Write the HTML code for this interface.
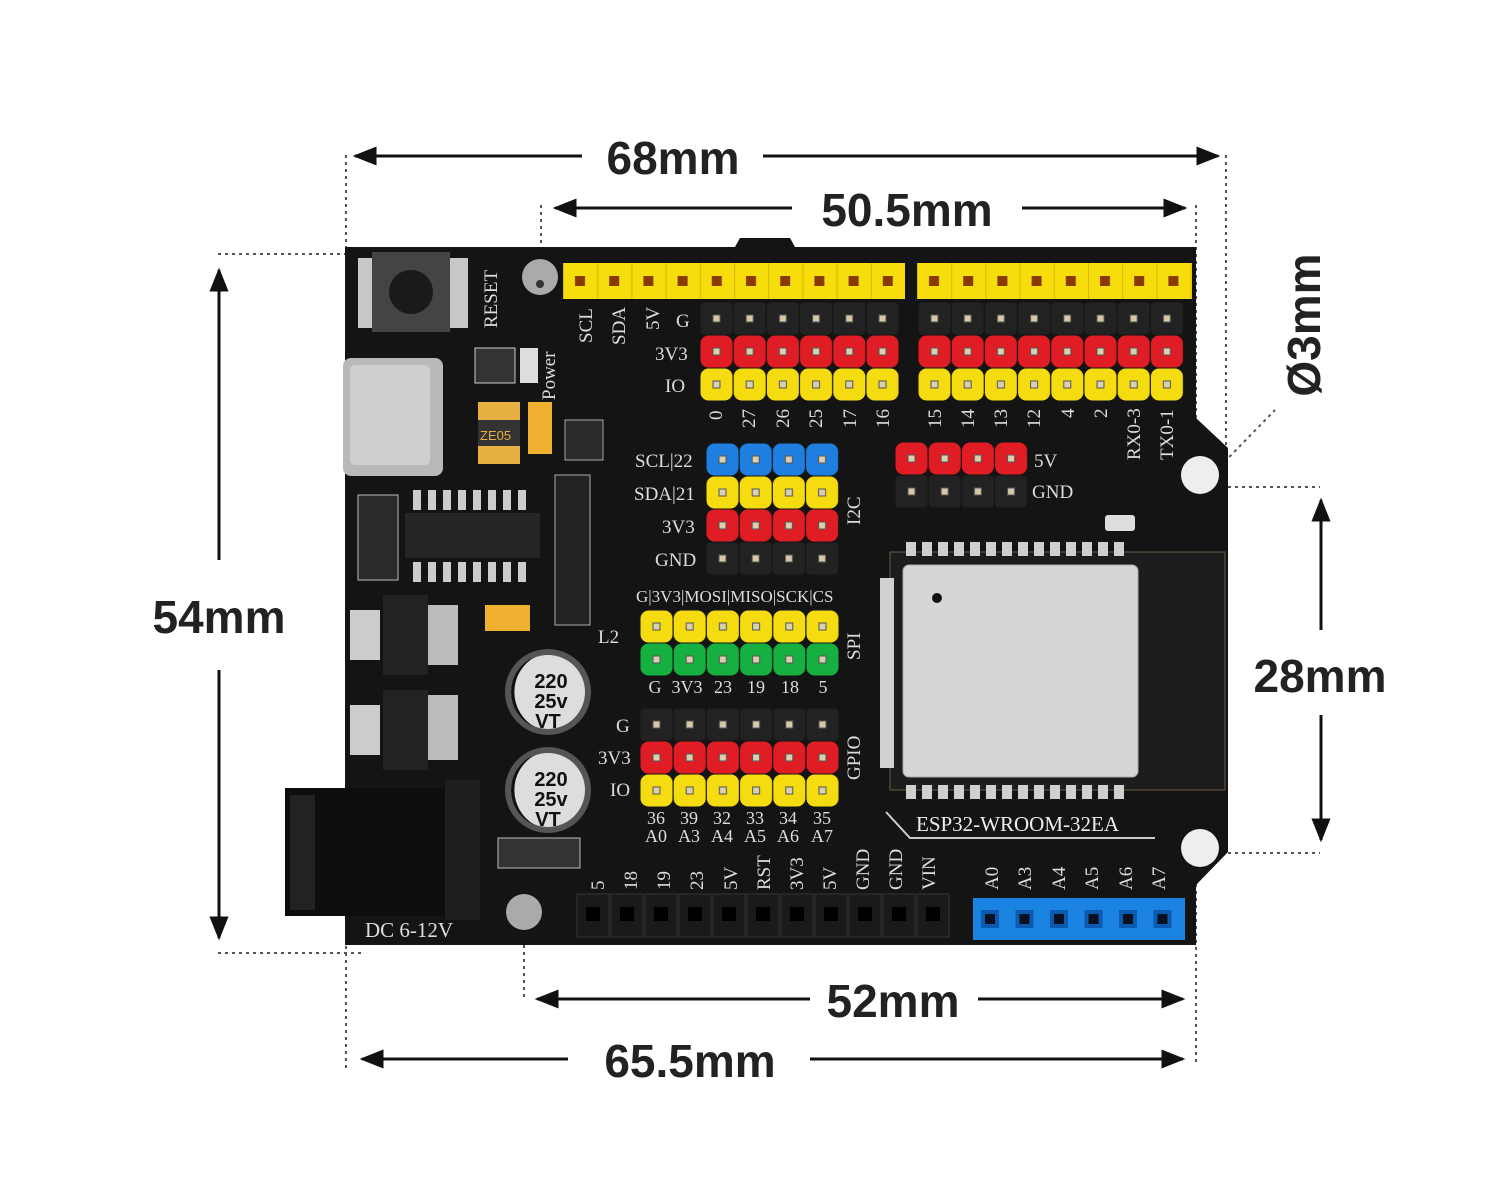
<!DOCTYPE html>
<html><head><meta charset="utf-8"><style>
html,body{margin:0;padding:0;background:#fff;}
svg{display:block;}
</style></head><body>
<svg width="1500" height="1200" viewBox="0 0 1500 1200" xmlns="http://www.w3.org/2000/svg" font-family="Liberation Serif, serif">
<defs>
<pattern id="pY" width="33.2" height="33" patternUnits="userSpaceOnUse"><rect x="0.5" y="0.5" width="32" height="32" rx="8" fill="#f5dc10"/><rect x="13" y="13" width="7" height="7" fill="#d8d0b0" stroke="#555" stroke-width="1"/></pattern>
<pattern id="pR" width="33.2" height="33" patternUnits="userSpaceOnUse"><rect x="0.5" y="0.5" width="32" height="32" rx="8" fill="#e01c24"/><rect x="13" y="13" width="7" height="7" fill="#d8d0b0" stroke="#555" stroke-width="1"/></pattern>
<pattern id="pK" width="33.2" height="33" patternUnits="userSpaceOnUse"><rect x="0.5" y="0.5" width="32" height="32" rx="4" fill="#222"/><rect x="13" y="13" width="7" height="7" fill="#d8c8a8" stroke="#555" stroke-width="1"/></pattern>
<pattern id="pB" width="33.2" height="33" patternUnits="userSpaceOnUse"><rect x="0.5" y="0.5" width="32" height="32" rx="8" fill="#1e7fe0"/><rect x="13" y="13" width="7" height="7" fill="#d8d0b0" stroke="#555" stroke-width="1"/></pattern>
<pattern id="pG" width="33.2" height="33" patternUnits="userSpaceOnUse"><rect x="0.5" y="0.5" width="32" height="32" rx="8" fill="#16b040"/><rect x="13" y="13" width="7" height="7" fill="#d8d0b0" stroke="#555" stroke-width="1"/></pattern>
<pattern id="hY" width="34.2" height="36" patternUnits="userSpaceOnUse"><rect width="34.2" height="36" fill="#f7dd0c"/><rect x="0" y="0" width="1" height="36" fill="#d6b800"/><rect x="12" y="13" width="10" height="10" fill="#8a3a00"/></pattern>
<pattern id="hK" width="34" height="45" patternUnits="userSpaceOnUse"><rect width="34" height="45" fill="#1a1a1a"/><rect x="1" y="1" width="32" height="43" fill="none" stroke="#333" stroke-width="1"/><rect x="10" y="14" width="14" height="14" fill="#000"/></pattern>
<pattern id="hB" width="34.5" height="40" patternUnits="userSpaceOnUse"><rect width="34.5" height="40" fill="#1a82e0"/><rect x="8" y="12" width="18" height="18" fill="#0a5ab0"/><rect x="12" y="16" width="10" height="10" fill="#0a1020"/></pattern>
<marker id="ar" viewBox="0 0 10 10" refX="9" refY="5" markerWidth="8" markerHeight="8" orient="auto-start-reverse"><path d="M0,1 L10,5 L0,9 z" fill="#111"/></marker>
</defs>

<g stroke="#555" stroke-width="2" stroke-dasharray="3,4" fill="none">
<line x1="346" y1="155" x2="346" y2="1070"/>
<line x1="1226" y1="155" x2="1226" y2="470"/>
<line x1="541" y1="205" x2="541" y2="285"/>
<line x1="1196" y1="205" x2="1196" y2="1065"/>
<line x1="524" y1="910" x2="524" y2="1000"/>
<line x1="218" y1="254" x2="345" y2="254"/>
<line x1="218" y1="953" x2="365" y2="953"/>
<line x1="1200" y1="487" x2="1320" y2="487"/>
<line x1="1200" y1="853" x2="1320" y2="853"/>
<line x1="1200" y1="487" x2="1275" y2="410"/>
</g>

<path d="M345,247 L735,247 L740,238 L790,238 L795,247 L1196,247 L1196,418 L1228,448 L1228,852 L1196,885 L1196,945 L345,945 Z" fill="#141414"/>
<rect x="285" y="788" width="190" height="128" fill="#0d0d0d"/>
<rect x="445" y="780" width="35" height="140" fill="#1f1f1f"/>
<rect x="290" y="795" width="25" height="115" fill="#222"/>
<rect x="343" y="358" width="100" height="118" rx="8" fill="#b9b9b9"/>
<rect x="350" y="365" width="80" height="100" rx="5" fill="#cfcfcf"/>
<rect x="358" y="258" width="110" height="70" fill="#c8c8c8"/>
<rect x="372" y="252" width="78" height="80" fill="#444"/>
<circle cx="411" cy="292" r="22" fill="#1a1a1a"/>
<text x="497" y="328" font-size="19" fill="#ddd" transform="rotate(-90 497 328)">RESET</text>
<text x="555" y="400" font-size="19" fill="#ddd" transform="rotate(-90 555 400)">Power</text>
<rect x="475" y="348" width="40" height="35" fill="#333" stroke="#ccc"/>
<rect x="520" y="348" width="18" height="35" fill="#ddd"/>
<rect x="478" y="402" width="42" height="62" fill="#e8b040"/><rect x="478" y="420" width="42" height="26" fill="#333"/>
<text x="480" y="440" font-size="13" fill="#e8b040" font-family="Liberation Sans, sans-serif">ZE05</text>
<rect x="528" y="402" width="24" height="52" fill="#f0b030"/>
<rect x="565" y="420" width="38" height="40" fill="#2a2a2a" stroke="#aaa"/>
<rect x="405" y="513" width="135" height="45" fill="#252525"/>
<g fill="#ccc"><rect x="413" y="490" width="8" height="20"/><rect x="428" y="490" width="8" height="20"/><rect x="443" y="490" width="8" height="20"/><rect x="458" y="490" width="8" height="20"/><rect x="473" y="490" width="8" height="20"/><rect x="488" y="490" width="8" height="20"/><rect x="503" y="490" width="8" height="20"/><rect x="518" y="490" width="8" height="20"/>
<rect x="413" y="562" width="8" height="20"/><rect x="428" y="562" width="8" height="20"/><rect x="443" y="562" width="8" height="20"/><rect x="458" y="562" width="8" height="20"/><rect x="473" y="562" width="8" height="20"/><rect x="488" y="562" width="8" height="20"/><rect x="503" y="562" width="8" height="20"/><rect x="518" y="562" width="8" height="20"/></g>
<rect x="358" y="495" width="40" height="85" fill="#2a2a2a" stroke="#bbb"/>
<rect x="555" y="475" width="35" height="150" fill="#222" stroke="#aaa"/>
<rect x="350" y="610" width="30" height="50" fill="#ccc"/>
<rect x="383" y="595" width="45" height="80" fill="#222"/>
<rect x="428" y="605" width="30" height="60" fill="#bbb"/>
<rect x="350" y="705" width="30" height="50" fill="#ccc"/>
<rect x="383" y="690" width="45" height="80" fill="#222"/>
<rect x="428" y="695" width="30" height="65" fill="#bbb"/>
<rect x="485" y="605" width="45" height="26" fill="#f0b030"/>

<circle cx="548" cy="692" r="43" fill="#555"/><circle cx="548" cy="692" r="37" fill="#ddd"/><path d="M511,692 A37,37 0 0 1 535,657 A40,40 0 0 0 535,727 A37,37 0 0 1 511,692Z" fill="#111"/>
<g font-size="20" font-weight="bold" fill="#111" font-family="Liberation Sans, sans-serif" text-anchor="middle">
<text x="551" y="688">220</text><text x="551" y="708">25v</text><text x="548" y="728">VT</text>
</g>
<circle cx="548" cy="790" r="43" fill="#555"/><circle cx="548" cy="790" r="37" fill="#ddd"/><path d="M511,790 A37,37 0 0 1 535,755 A40,40 0 0 0 535,825 A37,37 0 0 1 511,790Z" fill="#111"/>
<g font-size="20" font-weight="bold" fill="#111" font-family="Liberation Sans, sans-serif" text-anchor="middle">
<text x="551" y="786">220</text><text x="551" y="806">25v</text><text x="548" y="826">VT</text>
</g>
<rect x="498" y="838" width="82" height="30" fill="#333" stroke="#bbb"/>
<text x="365" y="937" font-size="21" fill="#ddd">DC 6-12V</text>
<text x="598" y="643" font-size="19" fill="#ddd">L2</text>

<circle cx="540" cy="277" r="18" fill="#aaa"/><circle cx="540" cy="284" r="4" fill="#333"/>
<circle cx="1200" cy="475" r="19" fill="#eee"/>
<circle cx="1200" cy="848" r="19" fill="#eee"/>
<circle cx="524" cy="912" r="18" fill="#aaa"/>

<g transform="translate(563,263)"><rect width="342" height="36" fill="url(#hY)"/></g>
<g transform="translate(917,263)"><rect width="275" height="36" fill="url(#hY)"/></g>

<g transform="translate(700,302)"><rect width="199" height="33" fill="url(#pK)"/><rect y="33" width="199" height="33" fill="url(#pR)"/><rect y="66" width="199" height="33" fill="url(#pY)"/></g>
<g transform="translate(918,302)"><rect width="266" height="33" fill="url(#pK)"/><rect y="33" width="266" height="33" fill="url(#pR)"/><rect y="66" width="266" height="33" fill="url(#pY)"/></g>
<g fill="#ddd" font-size="19">
<text x="655" y="360">3V3</text><text x="665" y="392">IO</text><text x="676" y="327">G</text>
<text x="592" y="343" transform="rotate(-90 592 343)">SCL</text>
<text x="625" y="345" transform="rotate(-90 625 345)">SDA</text>
<text x="659" y="330" transform="rotate(-90 659 330)">5V</text>
<text x="722" y="420" transform="rotate(-90 722 420)">0</text>
<text x="755" y="428" transform="rotate(-90 755 428)">27</text>
<text x="789" y="428" transform="rotate(-90 789 428)">26</text>
<text x="822" y="428" transform="rotate(-90 822 428)">25</text>
<text x="856" y="428" transform="rotate(-90 856 428)">17</text>
<text x="889" y="428" transform="rotate(-90 889 428)">16</text>
<text x="941" y="428" transform="rotate(-90 941 428)">15</text>
<text x="974" y="428" transform="rotate(-90 974 428)">14</text>
<text x="1007" y="428" transform="rotate(-90 1007 428)">13</text>
<text x="1040" y="428" transform="rotate(-90 1040 428)">12</text>
<text x="1074" y="418" transform="rotate(-90 1074 418)">4</text>
<text x="1107" y="418" transform="rotate(-90 1107 418)">2</text>
<text x="1140" y="460" transform="rotate(-90 1140 460)">RX0-3</text>
<text x="1173" y="460" transform="rotate(-90 1173 460)">TX0-1</text>
</g>

<g transform="translate(706,443)"><rect width="133" height="33" fill="url(#pB)"/><rect y="33" width="133" height="33" fill="url(#pY)"/><rect y="66" width="133" height="33" fill="url(#pR)"/><rect y="99" width="133" height="33" fill="url(#pK)"/></g>
<g fill="#ddd" font-size="19">
<text x="635" y="467">SCL|22</text><text x="634" y="500">SDA|21</text><text x="662" y="533">3V3</text><text x="655" y="566">GND</text>
<text x="860" y="525" transform="rotate(-90 860 525)">I2C</text>
</g>
<g transform="translate(895,442)"><rect width="133" height="33" fill="url(#pR)"/><rect y="33" width="133" height="33" fill="url(#pK)"/></g>
<g fill="#ddd" font-size="19"><text x="1034" y="467">5V</text><text x="1032" y="498">GND</text></g>

<text x="636" y="602" font-size="17" fill="#ddd">G|3V3|MOSI|MISO|SCK|CS</text>
<g transform="translate(640,610)"><rect width="199" height="33" fill="url(#pY)"/><rect y="33" width="199" height="33" fill="url(#pG)"/></g>
<text x="860" y="660" font-size="19" fill="#ddd" transform="rotate(-90 860 660)">SPI</text>
<g font-size="18" fill="#ddd" text-anchor="middle">
<text x="655" y="693">G</text><text x="687" y="693">3V3</text><text x="723" y="693">23</text><text x="756" y="693">19</text><text x="790" y="693">18</text><text x="823" y="693">5</text>
</g>

<g transform="translate(640,708)"><rect width="199" height="33" fill="url(#pK)"/><rect y="33" width="199" height="33" fill="url(#pR)"/><rect y="66" width="199" height="33" fill="url(#pY)"/></g>
<g fill="#ddd" font-size="19"><text x="616" y="732">G</text><text x="598" y="764">3V3</text><text x="610" y="796">IO</text>
<text x="860" y="780" transform="rotate(-90 860 780)">GPIO</text></g>
<g font-size="18" fill="#ddd" text-anchor="middle">
<text x="656" y="824">36</text><text x="689" y="824">39</text><text x="722" y="824">32</text><text x="755" y="824">33</text><text x="788" y="824">34</text><text x="822" y="824">35</text>
<text x="656" y="842">A0</text><text x="689" y="842">A3</text><text x="722" y="842">A4</text><text x="755" y="842">A5</text><text x="788" y="842">A6</text><text x="822" y="842">A7</text>
</g>

<rect x="890" y="552" width="335" height="238" fill="#1d1d1d" stroke="#6a5a40" stroke-width="1"/>
<g fill="#d0d0d0">
<rect x="906" y="542" width="10" height="14"/><rect x="922" y="542" width="10" height="14"/><rect x="938" y="542" width="10" height="14"/><rect x="954" y="542" width="10" height="14"/><rect x="970" y="542" width="10" height="14"/><rect x="986" y="542" width="10" height="14"/><rect x="1002" y="542" width="10" height="14"/><rect x="1018" y="542" width="10" height="14"/><rect x="1034" y="542" width="10" height="14"/><rect x="1050" y="542" width="10" height="14"/><rect x="1066" y="542" width="10" height="14"/><rect x="1082" y="542" width="10" height="14"/><rect x="1098" y="542" width="10" height="14"/><rect x="1114" y="542" width="10" height="14"/>
<rect x="906" y="785" width="10" height="14"/><rect x="922" y="785" width="10" height="14"/><rect x="938" y="785" width="10" height="14"/><rect x="954" y="785" width="10" height="14"/><rect x="970" y="785" width="10" height="14"/><rect x="986" y="785" width="10" height="14"/><rect x="1002" y="785" width="10" height="14"/><rect x="1018" y="785" width="10" height="14"/><rect x="1034" y="785" width="10" height="14"/><rect x="1050" y="785" width="10" height="14"/><rect x="1066" y="785" width="10" height="14"/><rect x="1082" y="785" width="10" height="14"/><rect x="1098" y="785" width="10" height="14"/><rect x="1114" y="785" width="10" height="14"/>
<rect x="880" y="578" width="14" height="190"/>
</g>
<rect x="903" y="565" width="235" height="212" rx="6" fill="#d6d6d6" stroke="#aaa"/>
<circle cx="937" cy="598" r="5" fill="#111"/>
<rect x="1105" y="515" width="30" height="16" rx="3" fill="#ddd"/>
<text x="916" y="831" font-size="21" fill="#eee">ESP32-WROOM-32EA</text>
<path d="M886,812 L910,838 L1155,838" stroke="#ccc" stroke-width="2" fill="none"/>

<g transform="translate(576,893)"><rect width="374" height="45" fill="url(#hK)"/></g>
<g transform="translate(973,898)"><rect width="212" height="42" fill="url(#hB)"/></g>
<g fill="#ddd" font-size="19">
<text x="604" y="890" transform="rotate(-90 604 890)">5</text>
<text x="637" y="890" transform="rotate(-90 637 890)">18</text>
<text x="670" y="890" transform="rotate(-90 670 890)">19</text>
<text x="703" y="890" transform="rotate(-90 703 890)">23</text>
<text x="737" y="890" transform="rotate(-90 737 890)">5V</text>
<text x="770" y="890" transform="rotate(-90 770 890)">RST</text>
<text x="803" y="890" transform="rotate(-90 803 890)">3V3</text>
<text x="836" y="890" transform="rotate(-90 836 890)">5V</text>
<text x="869" y="890" transform="rotate(-90 869 890)">GND</text>
<text x="902" y="890" transform="rotate(-90 902 890)">GND</text>
<text x="935" y="890" transform="rotate(-90 935 890)">VIN</text>
<text x="998" y="890" transform="rotate(-90 998 890)">A0</text>
<text x="1031" y="890" transform="rotate(-90 1031 890)">A3</text>
<text x="1065" y="890" transform="rotate(-90 1065 890)">A4</text>
<text x="1098" y="890" transform="rotate(-90 1098 890)">A5</text>
<text x="1132" y="890" transform="rotate(-90 1132 890)">A6</text>
<text x="1165" y="890" transform="rotate(-90 1165 890)">A7</text>
</g>

<g stroke="#111" stroke-width="3" fill="none">
<line x1="355" y1="156" x2="582" y2="156" marker-start="url(#ar)"/>
<line x1="763" y1="156" x2="1218" y2="156" marker-end="url(#ar)"/>
<line x1="555" y1="208" x2="792" y2="208" marker-start="url(#ar)"/>
<line x1="1022" y1="208" x2="1185" y2="208" marker-end="url(#ar)"/>
<line x1="219" y1="270" x2="219" y2="560" marker-start="url(#ar)"/>
<line x1="219" y1="670" x2="219" y2="938" marker-end="url(#ar)"/>
<line x1="1321" y1="500" x2="1321" y2="630" marker-start="url(#ar)"/>
<line x1="1321" y1="715" x2="1321" y2="840" marker-end="url(#ar)"/>
<line x1="537" y1="999" x2="810" y2="999" marker-start="url(#ar)"/>
<line x1="978" y1="999" x2="1183" y2="999" marker-end="url(#ar)"/>
<line x1="362" y1="1059" x2="568" y2="1059" marker-start="url(#ar)"/>
<line x1="810" y1="1059" x2="1183" y2="1059" marker-end="url(#ar)"/>
</g>
<g font-family="Liberation Sans, sans-serif" font-weight="bold" fill="#222" font-size="46">
<text x="673" y="174" text-anchor="middle">68mm</text>
<text x="907" y="226" text-anchor="middle">50.5mm</text>
<text x="219" y="633" text-anchor="middle">54mm</text>
<text x="1320" y="692" text-anchor="middle">28mm</text>
<text x="893" y="1017" text-anchor="middle">52mm</text>
<text x="690" y="1077" text-anchor="middle">65.5mm</text>
<text x="1320" y="325" text-anchor="middle" transform="rotate(-90 1320 325)">Ø3mm</text>
</g>
</svg>
</body></html>
